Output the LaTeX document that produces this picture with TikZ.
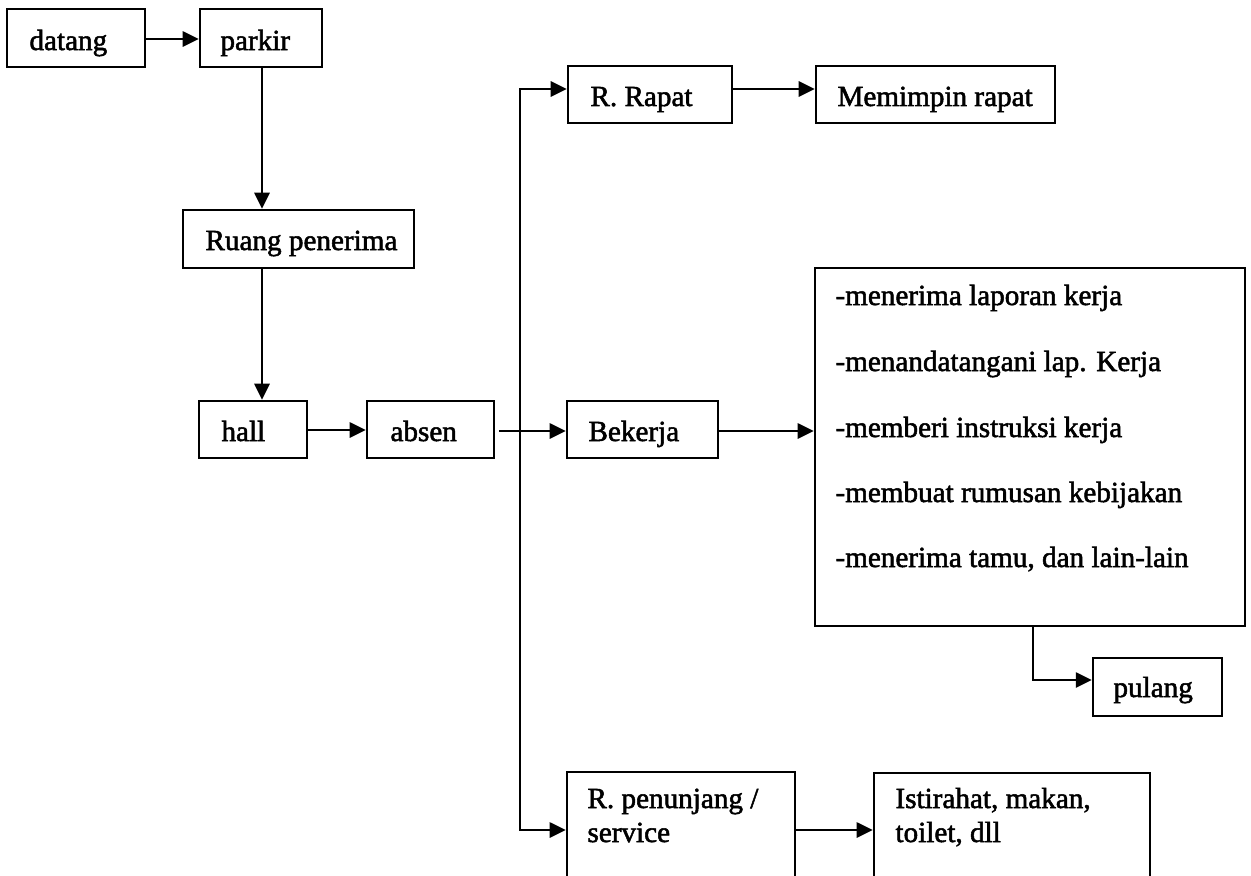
\documentclass[tikz,border=0pt]{standalone}
\usepackage{fontspec}
\setmainfont{Liberation Serif}[BoldFont={Liberation Serif}, BoldFeatures={FakeBold=1.8}]
\usetikzlibrary{arrows.meta,fit}

\begin{document}
\begin{tikzpicture}[
  x=0.41143pt, y=-0.41143pt,
  box/.style={draw, line width=1pt, inner sep=0pt, rectangle},
  txt/.style={anchor=base west, inner sep=0pt, font=\fontsize{12pt}{14pt}\selectfont\bfseries},
  arr/.style={line width=1pt, -{Triangle[length=6.6pt, width=6.2pt]}}
]
\useasboundingbox (0,0) rectangle (1251,876);
\clip (0,0) rectangle (1251,876);

% boxes
\node[box, fit={(7,9) (145,67)}]       (datang)   {};
\node[box, fit={(200,9) (322,67)}]     (parkir)   {};
\node[box, fit={(183,210) (414,268)}]  (ruang)    {};
\node[box, fit={(199,401) (307,458)}]  (hall)     {};
\node[box, fit={(367,401) (494,458)}]  (absen)    {};
\node[box, fit={(568,66) (732,123)}]   (rapat)    {};
\node[box, fit={(816,66) (1055,123)}]  (memimpin) {};
\node[box, fit={(567,401) (718,458)}]  (bekerja)  {};
\node[box, fit={(815,268) (1245,626)}] (tugas)    {};
\node[box, fit={(1093,658) (1222,716)}] (pulang)  {};
\node[box, fit={(567,772) (795,877)}]  (penunjang) {};
\node[box, fit={(874,773) (1150,877)}] (istirahat) {};

% labels
\node[txt] (t-datang)   at (29,50)   {datang};
\node[txt] (t-parkir)   at (220,50)  {parkir};
\node[txt] (t-ruang)    at (205,250) {Ruang penerima};
\node[txt] (t-hall)     at (221,441) {hall};
\node[txt] (t-absen)    at (390,441) {absen};
\node[txt] (t-rapat)    at (590,106) {R. Rapat};
\node[txt] (t-memimpin) at (837,106) {Memimpin rapat};
\node[txt] (t-bekerja)  at (588,441) {Bekerja};
\node[txt] (t-tugas1)   at (835,305) {-menerima laporan kerja};
\node[txt] (t-tugas2)   at (835,371) {-menandatangani lap. Kerja};
\node[txt] (t-tugas3)   at (835,437) {-memberi instruksi kerja};
\node[txt] (t-tugas4)   at (835,502) {-membuat rumusan kebijakan};
\node[txt] (t-tugas5)   at (835,567) {-menerima tamu, dan lain-lain};
\node[txt] (t-pulang)   at (1113,697) {pulang};
\node[txt] (t-penunjang1) at (587,808) {R. penunjang /};
\node[txt] (t-penunjang2) at (587,842) {service};
\node[txt] (t-istirahat1) at (895,808) {Istirahat, makan,};
\node[txt] (t-istirahat2) at (895,842) {toilet, dll};

% routing points
\coordinate (split)  at (520,431);
\coordinate (yrapat) at (0,89);
\coordinate (yserv)  at (0,830);
\coordinate (ypul)   at (0,680);
\coordinate (xpul)   at (1033,0);
\coordinate (xdown)  at (262,0);

% connectors
\draw[arr] (datang.east |- 0,39) -- (parkir.west |- 0,39);
\draw[arr] (xdown |- parkir.south) -- (xdown |- ruang.north);
\draw[arr] (xdown |- ruang.south) -- (xdown |- hall.north);
\draw[arr] (hall.east |- 0,430) -- (absen.west |- 0,430);
\draw[arr] ([xshift=1.6pt]absen.east |- split) -- (bekerja.west |- split);
\draw[arr] (split) |- (rapat.west |- yrapat);
\draw[arr] (split) |- (penunjang.west |- yserv);
\draw[arr] (rapat.east |- yrapat) -- (memimpin.west |- yrapat);
\draw[arr] (bekerja.east |- split) -- (tugas.west |- split);
\draw[arr] (xpul |- tugas.south) |- (pulang.west |- ypul);
\draw[arr] (penunjang.east |- yserv) -- (istirahat.west |- yserv);
\end{tikzpicture}
\end{document}
